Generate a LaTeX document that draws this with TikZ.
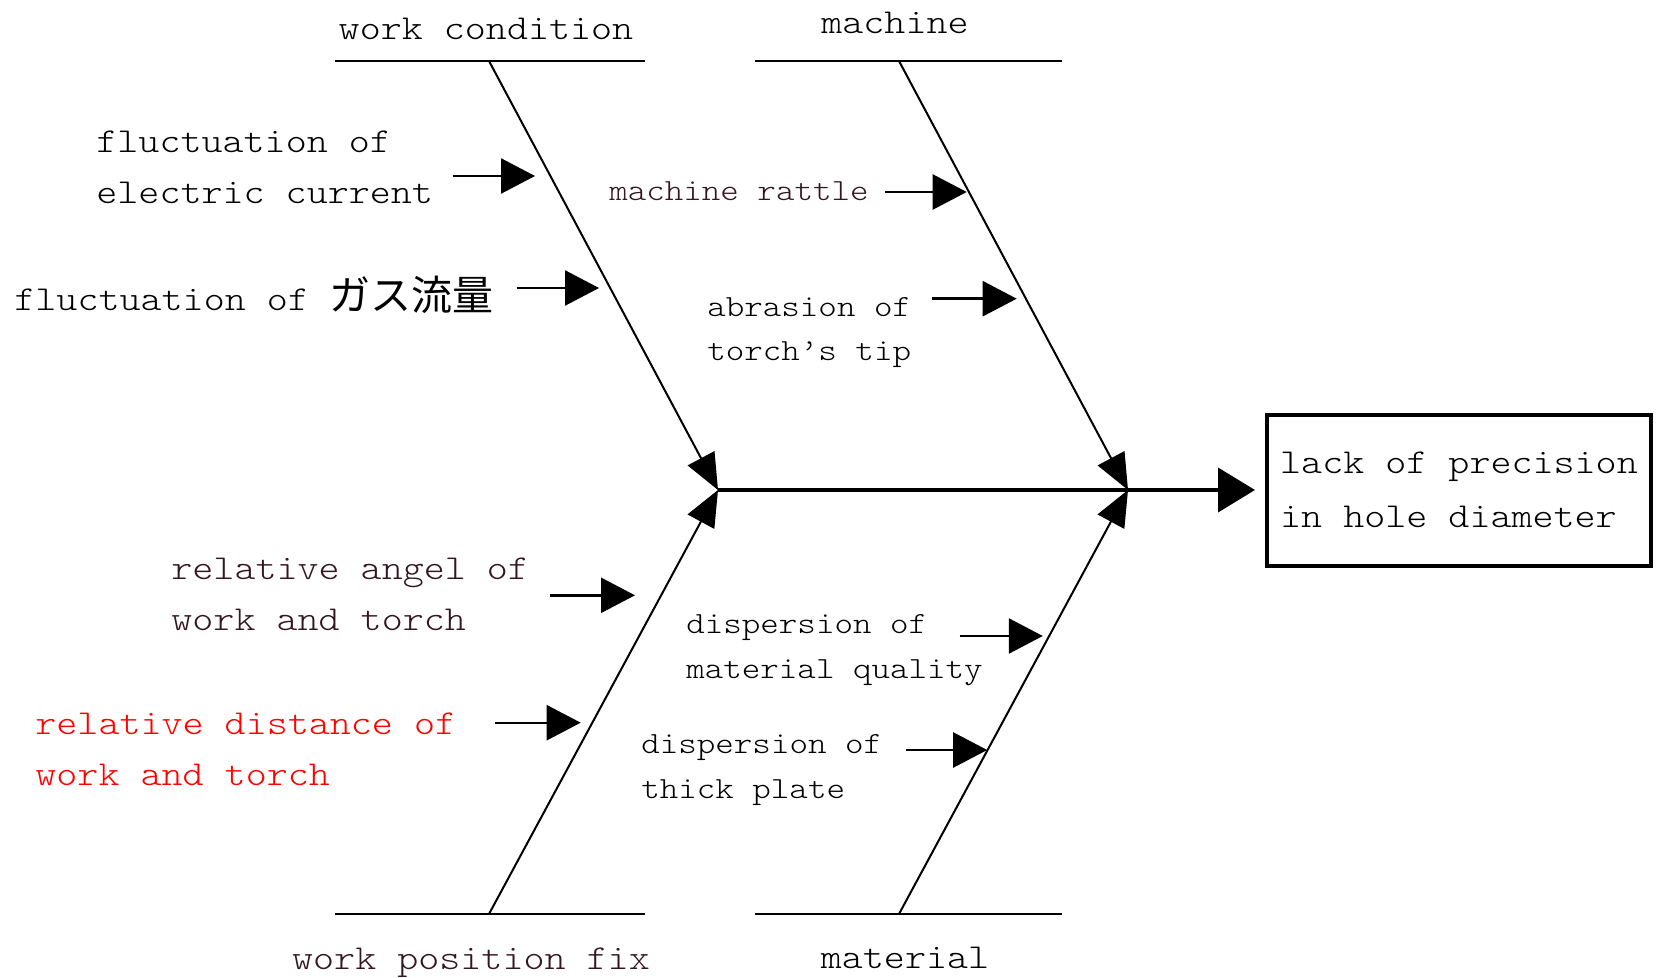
\documentclass[tikz,border=0pt]{standalone}
\usepackage{fontspec}
\usetikzlibrary{arrows.meta,calc}
\newfontfamily\lblfont[FakeStretch=1.145]{lmmonolt10-regular.otf}
\newfontfamily\cjkfont{Noto Sans CJK JP}
\definecolor{labelbrown}{RGB}{52,22,32}
\definecolor{hotred}{RGB}{255,0,0}

\begin{document}
\begin{tikzpicture}[x=0.5pt,y=-0.5pt,
  big/.style={font=\lblfont\fontsize{17.5}{25.5}\selectfont, inner sep=0pt, align=left, anchor=base west},
  small/.style={font=\lblfont\fontsize{15.4}{22.25}\selectfont, inner sep=0pt, align=left, anchor=base west},
  headlabel/.style={font=\lblfont\fontsize{17.5}{25.5}\selectfont, inner sep=0pt, anchor=base},
  bar/.style={line width=1pt},
  bone/.style={line width=1pt, -{Triangle[length=18pt,width=15pt]}},
  cause/.style={line width=1.2pt, -{Triangle[length=17pt,width=17.5pt]}},
  spine/.style={line width=2pt, -{Triangle[length=18.5pt,width=22pt]}},
]
\useasboundingbox (0,0) rectangle (1658,978);

% category bars and where the bones meet them
\coordinate (wcL) at (335,61);  \coordinate (wcR) at (645,61);  \coordinate (wcTop) at (489,61);
\coordinate (mcL) at (755,61);  \coordinate (mcR) at (1062,61); \coordinate (mcTop) at (899,61);
\coordinate (wpL) at (335,914); \coordinate (wpR) at (645,914); \coordinate (wpBot) at (489,914);
\coordinate (maL) at (755,914); \coordinate (maR) at (1062,914); \coordinate (maBot) at (899,914);
% joints on the spine
\coordinate (jL) at (718,490);
\coordinate (jR) at (1128,490);

% effect box
\node[draw, line width=2pt, minimum width=192pt, minimum height=75.5pt, inner sep=0pt,
      align=left, font=\lblfont\fontsize{17.5}{27}\selectfont] (effect) at (1459,490)
      {lack of precision\\in hole diameter};

% spine
\draw[spine, shorten >=5pt] (jL) -- (effect.west);

% bars
\draw[bar] (wcL) -- (wcR);
\draw[bar] (mcL) -- (mcR);
\draw[bar] (wpL) -- (wpR);
\draw[bar] (maL) -- (maR);

% bones
\draw[bone] (wcTop) -- (jL);
\draw[bone] (mcTop) -- (jR);
\draw[bone] (wpBot) -- (jL);
\draw[bone] (maBot) -- (jR);

% category names
\node[headlabel] (catwc) at (486,40) {work condition};
\node[headlabel] (catmc) at (895,34) {machine};
\node[headlabel, text=labelbrown] (catwp) at (471,969) {work position fix};
\node[headlabel] (catma) at (905,968) {material};

% causes (base anchor sits on the last line)
\node[big] (c1) at (96,204) {fluctuation of\\electric current};
\node[big] (c2) at (14,311) {fluctuation of {\cjkfont\fontsize{20.5}{25.5}\selectfont ガス流量}};
\node[small, text=labelbrown] (c3) at (609,201) {machine rattle};
\node[small] (c4) at (707,361) {abrasion of\\torch’s tip};
\node[big, text=labelbrown] (c5) at (171,630) {relative angel of\\work and torch};
\node[big, text=hotred] (c6) at (35,785) {relative distance of\\work and torch};
\node[small] (c7) at (686,678) {dispersion of\\material quality};
\node[small] (c8) at (641,798) {dispersion of\\thick plate};

% cause arrows
\coordinate (s1) at (452.7,176);   \coordinate (t1) at (535,176);
\coordinate (s2) at (516.5,288);   \coordinate (t2) at (599,288);
\coordinate (s3) at (885,192);     \coordinate (t3) at (966.7,192);
\coordinate (s4) at (931.7,298.7); \coordinate (t4) at (1016.7,298.7);
\coordinate (s5) at (550,595.3);   \coordinate (t5) at (635,595.3);
\coordinate (s6) at (495,722.7);   \coordinate (t6) at (580.7,722.7);
\coordinate (s7) at (959.7,636);   \coordinate (t7) at (1042.8,636);
\coordinate (s8) at (905.7,750);   \coordinate (t8) at (987.2,750);
\foreach \k in {1,...,8} { \draw[cause] (s\k) -- (t\k); }
\end{tikzpicture}
\end{document}
